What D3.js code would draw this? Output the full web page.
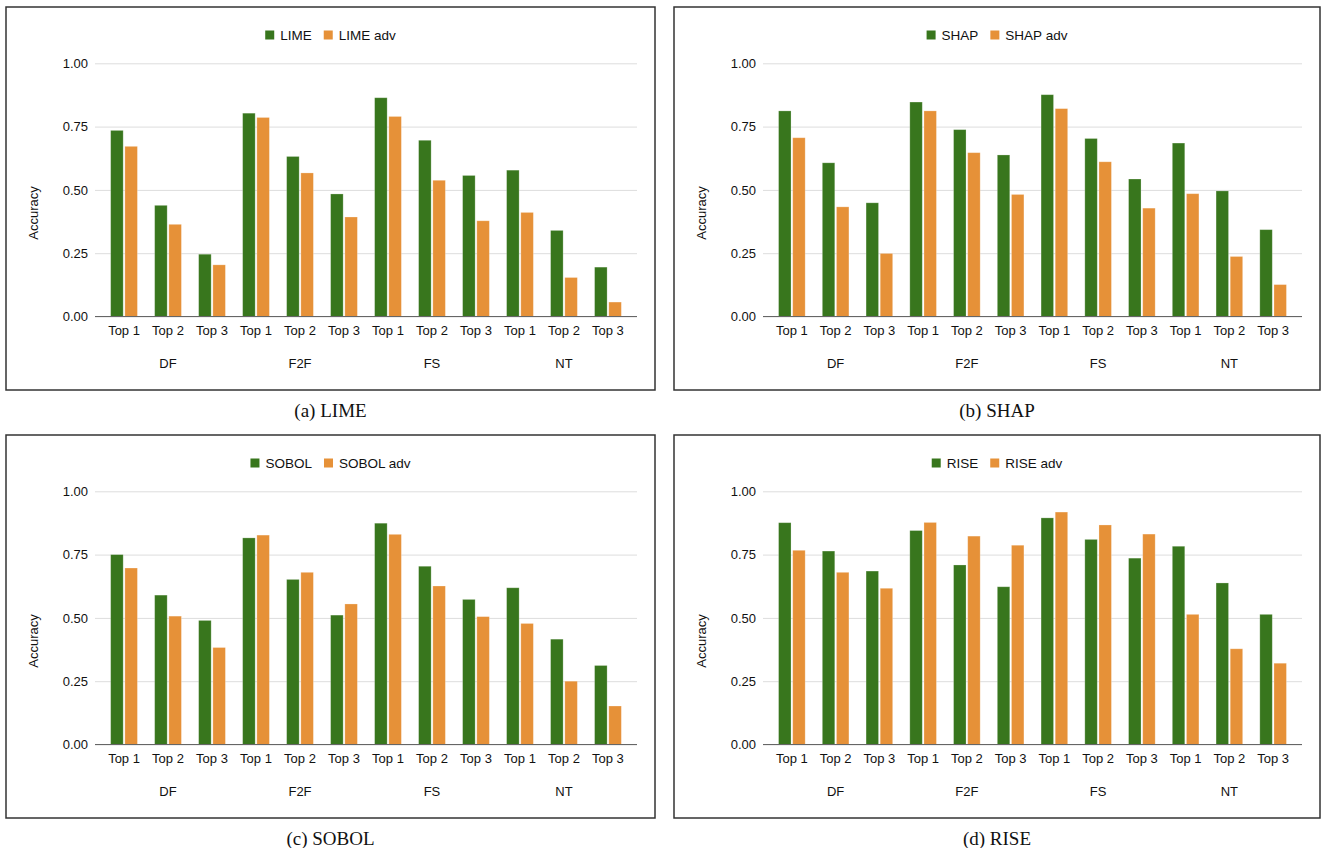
<!DOCTYPE html>
<html lang="en">
<head>
<meta charset="UTF-8"/>
<title>Accuracy per explainer</title>
<script src="https://d3js.org/d3.v7.min.js"></script>
<style>
  body { margin: 0; background: #fff; }
  svg text { font-family: "Liberation Sans", Arial, sans-serif; fill: #111; }
</style>
</head>
<body>
<div id="chart"></div>
<script>
// categories
const groups = ["DF", "F2F", "FS", "NT"];
const tops = ["Top 1", "Top 2", "Top 3"];
const yTicks = [0, 0.25, 0.5, 0.75, 1];

// values, order DF T1..T3, F2F T1..T3, FS T1..T3, NT T1..T3
const lime     = [0.735, 0.439, 0.246, 0.803, 0.632, 0.484, 0.864, 0.696, 0.557, 0.578, 0.340, 0.195];
const limeAdv  = [0.672, 0.364, 0.204, 0.786, 0.567, 0.393, 0.790, 0.538, 0.378, 0.411, 0.154, 0.057];
const shap     = [0.812, 0.607, 0.449, 0.847, 0.738, 0.638, 0.876, 0.703, 0.543, 0.685, 0.496, 0.343];
const shapAdv  = [0.706, 0.433, 0.249, 0.812, 0.647, 0.482, 0.821, 0.611, 0.428, 0.485, 0.237, 0.126];
const sobol    = [0.750, 0.590, 0.490, 0.816, 0.652, 0.511, 0.874, 0.704, 0.573, 0.619, 0.416, 0.312];
const sobolAdv = [0.697, 0.507, 0.383, 0.827, 0.680, 0.555, 0.830, 0.626, 0.505, 0.478, 0.250, 0.152];
const rise     = [0.876, 0.764, 0.685, 0.845, 0.709, 0.623, 0.895, 0.810, 0.736, 0.783, 0.638, 0.514];
const riseAdv  = [0.767, 0.680, 0.617, 0.877, 0.823, 0.787, 0.918, 0.867, 0.831, 0.514, 0.378, 0.321];

const charts = [
  {name: "LIME",  base: lime,  adv: limeAdv,  caption: "(a) LIME"},
  {name: "SHAP",  base: shap,  adv: shapAdv,  caption: "(b) SHAP"},
  {name: "SOBOL", base: sobol, adv: sobolAdv, caption: "(c) SOBOL"},
  {name: "RISE",  base: rise,  adv: riseAdv,  caption: "(d) RISE"}
];

const green = "#38761d", orange = "#e69138";

// frame of each panel
const panels = [
  {x: 6,   y: 7,   w: 649, h: 383},
  {x: 674, y: 7,   w: 646, h: 383},
  {x: 6,   y: 435, w: 649, h: 383},
  {x: 674, y: 435, w: 646, h: 383}
];

const svg = d3.select("#chart")
  .append("svg")
    .attr("width", 1322)
    .attr("height", 848);

const categories = groups.flatMap(g => tops.map(t => g + "|" + t));

charts.forEach(function(c, i) {
  const p = panels[i];
  const g = svg.append("g").attr("transform", `translate(${p.x},${p.y})`);

  const left = 89, right = p.w - 18, top = 56.3, bottom = 309.5;

  g.append("rect")
    .attr("width", p.w).attr("height", p.h)
    .attr("fill", "none")
    .attr("stroke", "#333")
    .attr("stroke-width", 1.5);

  const x = d3.scaleBand()
    .domain(categories)
    .range([left, right])
    .paddingOuter(0.16)
    .paddingInner(0);

  const xs = d3.scaleBand()
    .domain(["base", "adv"])
    .range([0, x.bandwidth()])
    .paddingInner(0.12)
    .paddingOuter(0.606);

  const y = d3.scaleLinear()
    .domain([0, 1])
    .range([bottom, top]);

  // gridlines + tick labels
  const yAxis = g.append("g")
    .attr("transform", `translate(${left},0)`)
    .call(d3.axisLeft(y).tickValues(yTicks).tickFormat(d3.format(".2f"))
      .tickSize(-(right - left)).tickPadding(7));
  yAxis.select(".domain").remove();
  yAxis.selectAll(".tick line").attr("stroke", "#ddd");
  yAxis.selectAll(".tick text")
    .attr("font-size", 13)
    .attr("font-family", "Liberation Sans, Arial, sans-serif")
    .attr("fill", "#111");

  // bars
  const rows = categories.map((k, j) => ({key: k, base: c.base[j], adv: c.adv[j]}));
  const bars = g.append("g").selectAll("g")
    .data(rows)
    .join("g")
      .attr("transform", d => `translate(${x(d.key)},0)`);
  bars.selectAll("rect")
    .data(d => [{s: "base", v: d.base}, {s: "adv", v: d.adv}])
    .join("rect")
      .attr("x", d => xs(d.s))
      .attr("y", d => y(d.v))
      .attr("width", xs.bandwidth())
      .attr("height", d => y(0) - y(d.v))
      .attr("fill", d => d.s === "base" ? green : orange)
      .attr("stroke", "#fff")
      .attr("stroke-opacity", 0.3)
      .attr("stroke-width", 0.8);

  // baseline
  g.append("line")
    .attr("x1", left).attr("x2", right)
    .attr("y1", y(0)).attr("y2", y(0))
    .attr("stroke", "#666");

  // category labels
  g.append("g").selectAll("text")
    .data(categories)
    .join("text")
      .attr("x", d => x(d) + x.bandwidth() / 2)
      .attr("y", 328)
      .attr("text-anchor", "middle")
      .attr("font-size", 13)
      .text(d => d.split("|")[1]);

  // group labels
  g.append("g").selectAll("text")
    .data(groups)
    .join("text")
      .attr("x", d => x(d + "|Top 2") + x.bandwidth() / 2)
      .attr("y", 361)
      .attr("text-anchor", "middle")
      .attr("font-size", 13)
      .text(d => d);

  // y label
  g.append("text")
    .attr("transform", `translate(32,206) rotate(-90)`)
    .attr("text-anchor", "middle")
    .attr("font-size", 13)
    .text("Accuracy");

  // legend
  const leg = g.append("g");
  const items = [{label: c.name, color: green}, {label: c.name + " adv", color: orange}];
  let cx = 0;
  items.forEach(function(it, k) {
    leg.append("rect")
      .attr("x", cx).attr("y", -9.5)
      .attr("width", 9).attr("height", 9)
      .attr("fill", it.color);
    const t = leg.append("text")
      .attr("x", cx + 15).attr("y", 0)
      .attr("font-size", 13.5)
      .text(it.label);
    cx += 15 + t.node().getComputedTextLength() + 12;
  });
  const legW = cx - 12;
  leg.attr("transform", `translate(${p.w / 2 - legW / 2},33)`);

  // caption under frame
  svg.append("text")
    .attr("x", p.x + p.w / 2)
    .attr("y", p.y + p.h + 27)
    .attr("text-anchor", "middle")
    .attr("font-size", 19)
    .style("font-family", "'Liberation Serif', 'Times New Roman', serif")
    .text(c.caption);
});
</script>
</body>
</html>
